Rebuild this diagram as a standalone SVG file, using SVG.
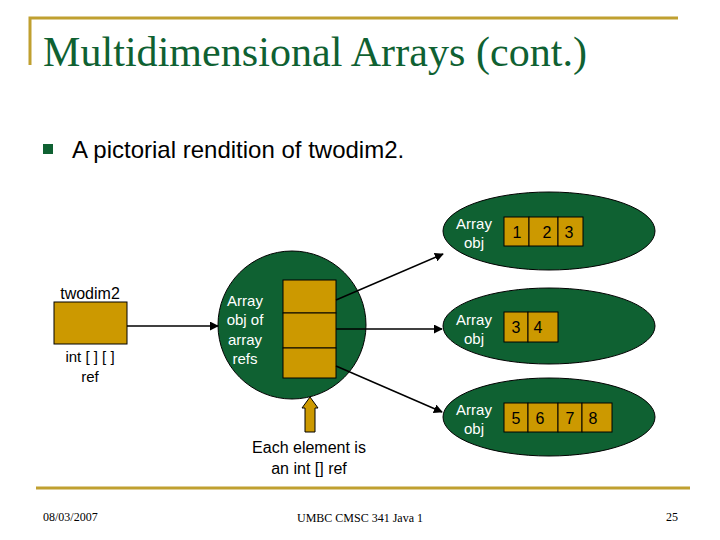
<svg xmlns="http://www.w3.org/2000/svg" width="720" height="540" viewBox="0 0 720 540">
<defs>
<style>
.g{fill:#0f6132;stroke:#000;stroke-width:1}
.b{fill:#cc9900;stroke:#000;stroke-width:1}
.w{font-family:"Liberation Sans",Arial,sans-serif;font-size:15px;fill:#fff;text-anchor:middle}
.k{font-family:"Liberation Sans",Arial,sans-serif;font-size:16px;fill:#000;text-anchor:middle}
.c{stroke:#000;stroke-width:1.5;fill:none;marker-end:url(#a)}
</style>
<marker id="a" viewBox="0 0 10 10" refX="9" refY="5" markerWidth="6" markerHeight="6" orient="auto"><path d="M0,0L10,5L0,10z" fill="#000"/></marker>
</defs>
<rect width="720" height="540" fill="#fff"/>
<path d="M30,65V18H678" fill="none" stroke="#c0a030" stroke-width="3"/>
<line x1="36" y1="488" x2="690" y2="488" stroke="#c0a030" stroke-width="3"/>
<text x="43" y="66" font-family="Liberation Serif,serif" font-size="42" fill="#0f6132" textLength="544">Multidimensional Arrays (cont.)</text>
<rect x="43" y="144" width="10" height="10" fill="#0f6132"/>
<text x="72" y="158" font-family="Liberation Sans,sans-serif" font-size="24">A pictorial rendition of twodim2.</text>
<g id="ref">
<text x="90" y="299" class="k">twodim2</text>
<rect class="b" x="54" y="302" width="73" height="42"/>
<text x="90" y="362" class="k" style="font-size:15px">int [ ] [ ]</text>
<text x="90" y="382" class="k" style="font-size:15px">ref</text>
</g>
<g id="outer">
<circle class="g" cx="292" cy="325" r="74"/>
<text x="245" y="306" class="w">Array</text>
<text x="245" y="325" class="w">obj of</text>
<text x="245" y="345" class="w">array</text>
<text x="245" y="364" class="w">refs</text>
<rect class="b" x="283" y="280" width="53" height="33"/>
<rect class="b" x="283" y="313" width="53" height="35"/>
<rect class="b" x="283" y="348" width="53" height="30"/>
</g>
<g id="row1">
<ellipse class="g" cx="549" cy="231" rx="106" ry="39"/>
<text x="474" y="229" class="w">Array</text>
<text x="474" y="248" class="w">obj</text>
<rect class="b" x="504" y="217" width="25" height="29"/>
<rect class="b" x="529" y="217" width="29" height="29"/>
<rect class="b" x="558" y="217" width="25" height="29"/>
<text x="517" y="238" class="k">1</text><text x="547" y="238" class="k">2</text><text x="569" y="238" class="k">3</text>
</g>
<g id="row2">
<ellipse class="g" cx="549" cy="326" rx="106" ry="38"/>
<text x="474" y="325" class="w">Array</text>
<text x="474" y="344" class="w">obj</text>
<rect class="b" x="504" y="312" width="24" height="30"/>
<rect class="b" x="528" y="312" width="30" height="30"/>
<text x="516" y="333" class="k">3</text><text x="538" y="333" class="k">4</text>
</g>
<g id="row3">
<ellipse class="g" cx="549" cy="417" rx="106" ry="39"/>
<text x="474" y="415" class="w">Array</text>
<text x="474" y="434" class="w">obj</text>
<rect class="b" x="504" y="403" width="24" height="29"/>
<rect class="b" x="528" y="403" width="30" height="29"/>
<rect class="b" x="558" y="403" width="24" height="29"/>
<rect class="b" x="582" y="403" width="30" height="29"/>
<text x="516" y="424" class="k">5</text><text x="540" y="424" class="k">6</text><text x="570" y="424" class="k">7</text><text x="593" y="424" class="k">8</text>
</g>
<g id="note">
<path class="b" d="M305,432V408H302L310,397L318,408H315V432Z"/>
<text x="309" y="453" class="k">Each element is</text>
<text x="309" y="474" class="k">an int [] ref</text>
</g>
<g id="connectors">
<line class="c" x1="127" y1="326" x2="218" y2="326"/>
<line class="c" x1="336" y1="300" x2="443" y2="254"/>
<line class="c" x1="336" y1="329" x2="442" y2="329"/>
<line class="c" x1="336" y1="366" x2="442" y2="412"/>
</g>
<text x="43" y="521" font-family="Liberation Serif,serif" font-size="12">08/03/2007</text>
<text x="360" y="522" font-family="Liberation Serif,serif" font-size="12" text-anchor="middle">UMBC CMSC 341 Java 1</text>
<text x="678" y="521" font-family="Liberation Serif,serif" font-size="12" text-anchor="end">25</text>
</svg>
